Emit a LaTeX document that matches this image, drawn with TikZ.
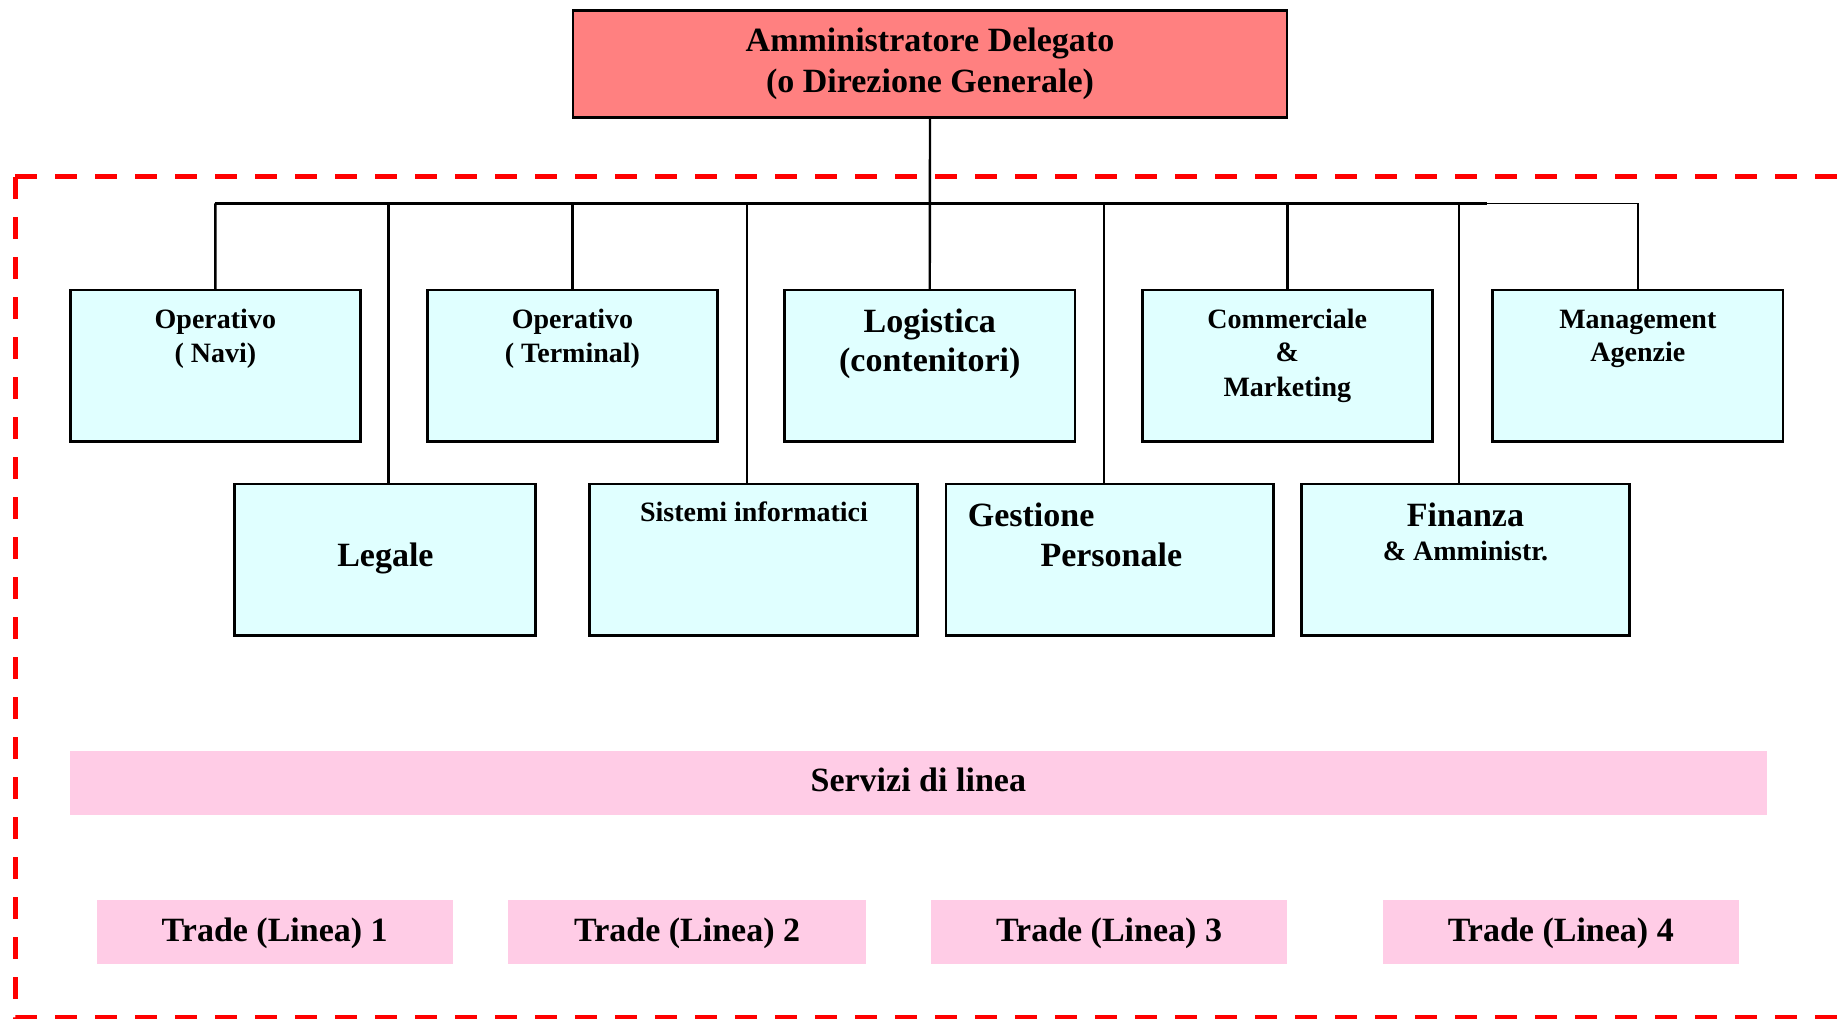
\documentclass[tikz,border=0pt]{standalone}
\usepackage{fontspec}
\setmainfont{Liberation Serif}
\begin{document}
\begin{tikzpicture}[x=1pt,y=-1pt,
  box/.style={draw=black, line width=2.8pt, rectangle, inner sep=0pt, outer sep=0pt},
  headbox/.style={box, fill=headred},
  unitbox/.style={box, fill=unitcyan, minimum height=151.5pt},
  linebox/.style={rectangle, fill=linepink, inner sep=0pt, outer sep=0pt, minimum height=63.6pt},
  big/.style={font=\fontsize{34}{40}\selectfont\bfseries, inner sep=0pt, anchor=base},
  small/.style={font=\fontsize{28}{33}\selectfont\bfseries, inner sep=0pt, anchor=base},
  wire/.style={draw=black, line width=2.4pt},
  border/.style={draw=dashred, line width=5pt, dash pattern=on 22pt off 18pt}
]
\definecolor{headred}{HTML}{FF8080}
\definecolor{unitcyan}{HTML}{E0FFFF}
\definecolor{linepink}{HTML}{FFCCE6}
\definecolor{dashred}{HTML}{FF0000}

\useasboundingbox (0,0) rectangle (1845,1019);
\clip (0,0) rectangle (1845,1019);

% dashed frame of the company area (open to the right)
\coordinate (fTR) at (1900,177);
\coordinate (fTL) at (15,177);
\coordinate (fBL) at (15,1017);
\coordinate (fBR) at (1900,1017);
\draw[border] (fTL) -- (fTR);
\draw[border] (fTL) -- (fBL) -- (fBR);

% top management
\node[headbox, minimum width=714pt, minimum height=107pt] (top) at (930,64.2) {};
\node[big] (top1) at (930,51.8) {Amministratore Delegato};
\node[big] (top2) at (930,93) {(o Direzione Generale)};

% first row of departments
\node[unitbox, minimum width=289.5pt] (navi) at (215.35,365.7) {};
\node[unitbox, minimum width=290.7pt] (term) at (572.45,365.7) {};
\node[unitbox, minimum width=290.5pt] (logi) at (929.75,365.7) {};
\node[unitbox, minimum width=290pt]   (comm) at (1287.3,365.7) {};
\node[unitbox, minimum width=290.4pt] (mgmt) at (1637.8,365.7) {};

% second row of departments
\node[unitbox, minimum width=301.2pt] (legale) at (384.8,559.75) {};
\node[unitbox, minimum width=328.3pt] (sist)   at (753.65,559.75) {};
\node[unitbox, minimum width=327.6pt] (gest)   at (1109.8,559.75) {};
\node[unitbox, minimum width=328.1pt] (fin)    at (1465.25,559.75) {};

% labels
\node[small] (navi1) at (215.35,328.5) {Operativo};
\node[small] (navi2) at (215.35,362) {( Navi)};
\node[small] (term1) at (572.45,328.5) {Operativo};
\node[small] (term2) at (572.45,362) {( Terminal)};
\node[big] (logi1) at (929.75,332.3) {Logistica};
\node[big] (logi2) at (929.75,371.7) {(contenitori)};
\node[small] (comm1) at (1287.3,328.5) {Commerciale};
\node[small] (comm2) at (1287.3,361.7) {\&};
\node[small] (comm3) at (1287.3,396.7) {Marketing};
\node[small] (mgmt1) at (1637.8,328.5) {Management};
\node[small] (mgmt2) at (1637.8,361.7) {Agenzie};
\node[big] (legale1) at (385.4,566.7) {Legale};
\node[small] (sist1) at (754,521.7) {Sistemi informatici};
\node[big, anchor=base west] (gest1) at (967.6,526.7) {Gestione};
\node[big, anchor=base west] (gest2) at (1040.3,566) {Personale};
\node[big] (fin1) at (1465.5,526.7) {Finanza};
\node[small] (fin2) at (1465.5,560) {\& Amministr.};

% connectors
\coordinate (bNavi) at (215.3,203.5);
\coordinate (bLeg)  at (388.3,203.5);
\coordinate (bTerm) at (572.45,203.5);
\coordinate (bSist) at (747.2,203.5);
\coordinate (bGest) at (1103.7,203.5);
\coordinate (bComm) at (1287.3,203.5);
\coordinate (bFin)  at (1459.1,203.5);
\coordinate (bEnd)  at (1487,203.5);
\coordinate (bMgmt) at (1637.8,203.5);

\draw[wire] (bNavi) -- (bEnd);
\draw[draw=black, line width=1.6pt] (bEnd) -- (bMgmt);
\draw[wire] (top.south) -- (logi.north);
\draw[wire] (bNavi) -- (navi.north);
\draw[wire] (bTerm) -- (term.north);
\draw[wire] (bComm) -- (comm.north);
\draw[wire] (bMgmt) -- (mgmt.north);
\draw[wire] (bLeg)  -- (bLeg |- legale.north);
\draw[wire] (bSist) -- (bSist |- sist.north);
\draw[wire] (bGest) -- (bGest |- gest.north);
\draw[wire] (bFin)  -- (bFin |- fin.north);

% line services
\node[linebox, minimum width=1696.8pt, minimum height=63.5pt] (serv) at (918.3,782.75) {};
\node[big] (serv1) at (918.3,791.7) {Servizi di linea};

\node[linebox, minimum width=356.5pt] (t1) at (274.75,931.85) {};
\node[linebox, minimum width=357.7pt] (t2) at (687.15,931.85) {};
\node[linebox, minimum width=356.6pt] (t3) at (1109,931.85) {};
\node[linebox, minimum width=356.4pt] (t4) at (1560.8,931.85) {};
\node[big] (t1l) at (274.75,941.7) {Trade (Linea) 1};
\node[big] (t2l) at (687.15,941.7) {Trade (Linea) 2};
\node[big] (t3l) at (1109,941.7) {Trade (Linea) 3};
\node[big] (t4l) at (1560.8,941.7) {Trade (Linea) 4};
\end{tikzpicture}
\end{document}
